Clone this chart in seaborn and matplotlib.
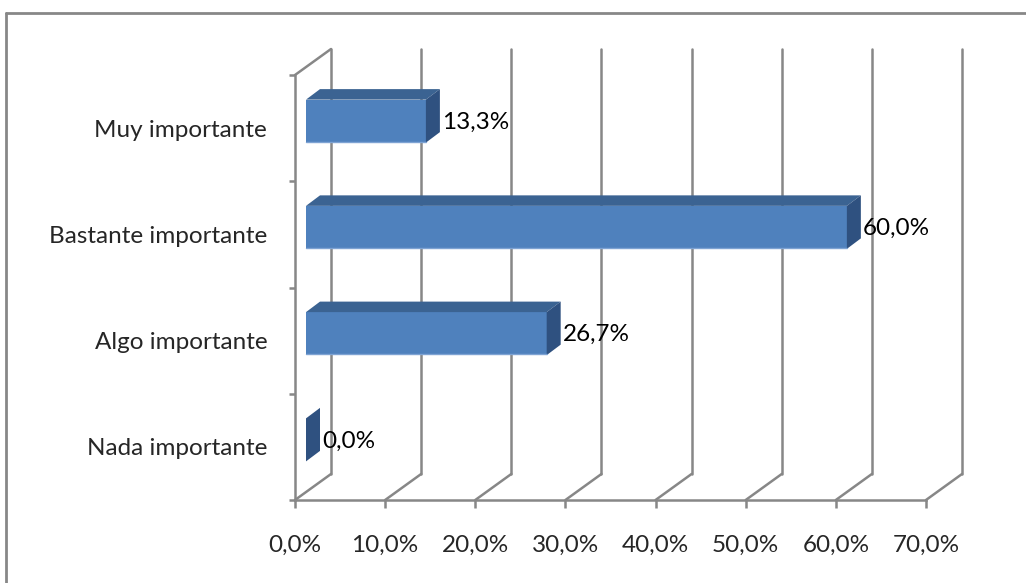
import numpy as np
import pandas as pd
import matplotlib
matplotlib.use("Agg")
import matplotlib.pyplot as plt
import seaborn as sns
from matplotlib.transforms import ScaledTranslation, IdentityTransform
from matplotlib.patches import Polygon
from matplotlib.lines import Line2D

# ---- data ----
categories = ["Muy importante", "Bastante importante", "Algo importante", "Nada importante"]
values = [13.3, 60.0, 26.7, 0.0]
value_labels = ["13,3%", "60,0%", "26,7%", "0,0%"]
x_ticks = [0, 10, 20, 30, 40, 50, 60, 70]
x_tick_labels = ["0,0%", "10,0%", "20,0%", "30,0%", "40,0%", "50,0%", "60,0%", "70,0%"]

# ---- style ----
sns.set_theme(style="white")
plt.rcParams["font.family"] = ["Lato", "DejaVu Sans"]

GRID = "#878787"
FRONT = "#4F81BD"
TOP = "#3B6392"
SIDE = "#2F5180"
FS = 17.5

W, H, DPI = 1026, 583, 100
fig = plt.figure(figsize=(W / DPI, H / DPI), dpi=DPI)
fig.patch.set_facecolor("white")

# front plane of the 3-D box
x0, x1, ytop, ybot = 295, 926, 75, 500
ax = fig.add_axes([x0 / W, 1 - ybot / H, (x1 - x0) / W, (ybot - ytop) / H])

df = pd.DataFrame({"cat": categories, "val": values})
sns.barplot(data=df, y="cat", x="val", order=categories, orient="h",
            color=FRONT, saturation=1, width=0.405, ax=ax, edgecolor="none")
ax.set_xlim(0, 70)
ax.set_ylim(3.5, -0.5)
ax.set_facecolor("none")

def off(dx, dy):
    return ScaledTranslation(dx / DPI, dy / DPI, fig.dpi_scale_trans)

# depth offsets (pixels): bar front, bar back, back wall
BF = (11, 7)
BB = (25, 17.5)
BW = (36, 26)
LW = 1.8

fig.canvas.draw()
td = ax.transData

def disp(x, y, o):
    p = td.transform((x, y))
    return (p[0] + o[0], p[1] + o[1])

# back wall vertical gridlines and floor diagonals
for t in x_ticks:
    a = disp(t, -0.5, BW)
    b = disp(t, 3.5, BW)
    ax.add_line(Line2D([a[0], b[0]], [a[1], b[1]], transform=IdentityTransform(),
                       color=GRID, lw=LW, clip_on=False, zorder=0.5))
    f = disp(t, 3.5, (0, 0))
    ax.add_line(Line2D([f[0], b[0]], [f[1], b[1]], transform=IdentityTransform(),
                       color=GRID, lw=LW, clip_on=False, zorder=0.5))
# left wall top edge
f = disp(0, -0.5, (0, 0))
b = disp(0, -0.5, BW)
ax.add_line(Line2D([f[0], b[0]], [f[1], b[1]], transform=IdentityTransform(),
                   color=GRID, lw=LW, clip_on=False, zorder=0.5))

# bars: shift front faces, add top and side faces
for patch, lab in zip(list(ax.patches), value_labels):
    x, y = patch.get_x(), patch.get_y()
    w, h = patch.get_width(), patch.get_height()
    patch.set_transform(td + off(*BF))
    patch.set_zorder(3)
    # top face (y is the upper edge in data since axis inverted)
    p1 = disp(x, y, BF); p2 = disp(x + w, y, BF)
    p3 = disp(x + w, y, BB); p4 = disp(x, y, BB)
    ax.add_patch(Polygon([p1, p2, p3, p4], closed=True, transform=IdentityTransform(),
                         facecolor=TOP, edgecolor="none", clip_on=False, zorder=3))
    # side face
    s1 = disp(x + w, y, BF); s2 = disp(x + w, y + h, BF)
    s3 = disp(x + w, y + h, BB); s4 = disp(x + w, y, BB)
    ax.add_patch(Polygon([s1, s2, s3, s4], closed=True, transform=IdentityTransform(),
                         facecolor=SIDE, edgecolor="none", clip_on=False, zorder=3))
    # lighter bottom edge of front face
    e1 = disp(x, y + h, BF); e2 = disp(x + w, y + h, BF)
    ax.add_line(Line2D([e1[0], e2[0]], [e1[1] + 1, e2[1] + 1], transform=IdentityTransform(),
                       color="#7EA3D3", lw=1.0, clip_on=False, zorder=3.5))
    # value label
    ax.text(x + w, y + h / 2, lab, transform=td + off(BB[0] + 2, BF[1] - 1),
            ha="left", va="center", fontsize=FS, color="black", zorder=4)

# axes lines & ticks
for s in ["top", "right"]:
    ax.spines[s].set_visible(False)
for s in ["left", "bottom"]:
    ax.spines[s].set_color(GRID)
    ax.spines[s].set_linewidth(LW)
    ax.spines[s].set_zorder(1)

ax.set_xticks(x_ticks)
ax.set_xticklabels(x_tick_labels, fontsize=FS)
ax.set_yticks(range(len(categories)))
ax.set_yticklabels(categories, fontsize=FS)
ax.set_yticks([-0.5, 0.5, 1.5, 2.5, 3.5], minor=True)
ax.tick_params(axis="x", which="major", direction="out", length=6, width=LW,
               color=GRID, pad=19, bottom=True)
ax.tick_params(axis="y", which="major", length=0, pad=20, left=True)
ax.tick_params(axis="y", which="minor", direction="out", length=4, width=LW,
               color=GRID, left=True)
ax.set_xlabel("")
ax.set_ylabel("")
ax.grid(False)

# outer chart frame (extends past the image on the right and bottom)
fig.add_artist(Line2D([6 / W, 6 / W], [1 - 13 / H, -0.1], transform=fig.transFigure,
                      color=GRID, lw=2))
fig.add_artist(Line2D([6 / W, 1.1], [1 - 13 / H, 1 - 13 / H], transform=fig.transFigure,
                      color=GRID, lw=2))

fig.savefig("out.png", dpi=DPI, facecolor="white")
